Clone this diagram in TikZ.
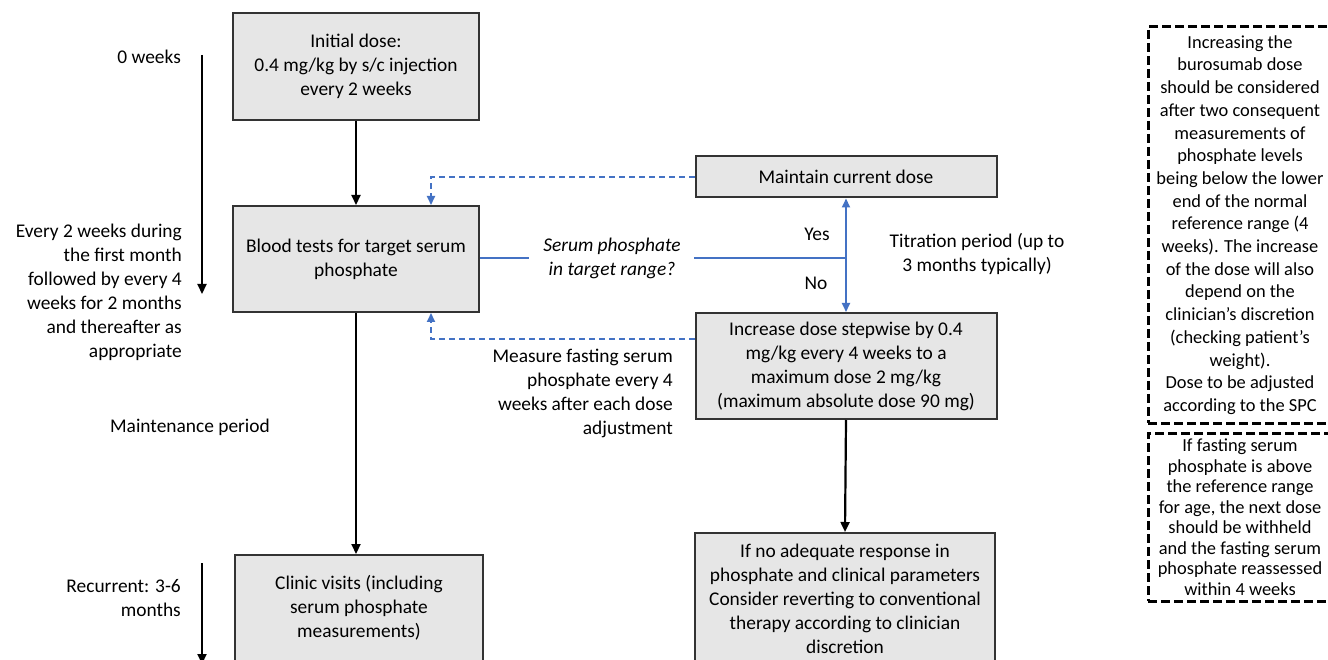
\documentclass[tikz,border=0pt]{standalone}
\usepackage{fontspec}
\setmainfont{Carlito}
\usetikzlibrary{arrows.meta}
\definecolor{boxfill}{HTML}{E6E6E6}
\definecolor{boxdraw}{HTML}{333333}
\definecolor{flowblue}{HTML}{4472C4}
\begin{document}
\begin{tikzpicture}[x=1pt,y=-1pt,
  box/.style={draw=boxdraw, fill=boxfill, line width=2pt, align=center, inner sep=0pt,
    font=\fontsize{19.4}{24}\selectfont},
  lbl/.style={inner sep=0pt, font=\fontsize{19.4}{24}\selectfont},
  blk/.style={line width=2.2pt, -{Triangle[length=10pt,width=9pt]}},
  blu/.style={draw=flowblue, line width=1.8pt},
  bluarrow/.style={blu, -{Triangle[length=9pt,width=8pt]}},
  bludash/.style={bluarrow, dash pattern=on 6pt off 4pt},
  note/.style={draw=black, line width=3pt, dash pattern=on 9pt off 4pt, align=center, inner sep=0pt}]
\useasboundingbox (0,0) rectangle (1328,660);
\clip (0,0) rectangle (1328,660);
\fill[white] (0,0) rectangle (1328,660);

% main boxes
\node[box, minimum width=246pt, minimum height=107pt] (init) at (356,66.5)
  {Initial dose:\\0.4 mg/kg by s/c injection\\every 2 weeks};
\node[box, minimum width=246pt, minimum height=106pt] (blood) at (356,259)
  {Blood tests for target serum\\phosphate};
\node[box, minimum width=301pt, minimum height=41pt] (maint) at (846,177)
  {Maintain current dose};
\node[box, minimum width=301pt, minimum height=106pt] (incr) at (846,366)
  {Increase dose stepwise by 0.4\\mg/kg every 4 weeks to a\\maximum dose 2 mg/kg\\(maximum absolute dose 90 mg)};
\node[box, minimum width=300pt, minimum height=132pt] (ifno) at (845,599)
  {If no adequate response in\\phosphate and clinical parameters\\Consider reverting to conventional\\therapy according to clinician\\discretion};
\node[box, minimum width=248pt, minimum height=106pt] (clinic) at (359,608)
  {Clinic visits (including\\serum phosphate\\measurements)};

% left labels
\node[lbl, anchor=east] (w0) at (181,57) {0 weeks};
\node[lbl, anchor=east, align=right] (every) at (182,292)
  {Every 2 weeks during\\the first month\\followed by every 4\\weeks for 2 months\\and thereafter as\\appropriate};
\node[lbl] (maintp) at (190,427) {Maintenance period};
\node[lbl, anchor=east, align=right] (recur) at (181,598) {Recurrent: 3-6\\months};

% timeline arrows
\coordinate (t1a) at (202,55);
\coordinate (t1b) at (202,294);
\coordinate (t2a) at (202,563);
\coordinate (t2b) at (202,664);
\draw[blk] (t1a) -- (t1b);
\draw[blk] (t2a) -- (t2b);

% black flow arrows
\draw[blk] (init.south) -- (blood.north);
\draw[blk] (blood.south) -- (blood.south |- clinic.north);
\draw[blk] (incr.south) -- (ifno.north);

% decision
\node[lbl, align=center, font=\fontsize{19.4}{24}\selectfont\itshape] (q) at (612,258.5)
  {Serum phosphate\\in target range?};
\coordinate (qa) at (529,258);
\coordinate (qb) at (694,258);
\coordinate (junc) at (846,258);
\draw[blu] (blood.east |- qa) -- (qa);
\draw[blu] (qb) -- (junc);
\draw[bluarrow] (junc) -- (maint.south);
\draw[bluarrow] (junc) -- (incr.north);
\node[lbl] (yes) at (817,234) {Yes};
\node[lbl] (no) at (816,283) {No};
\node[lbl, align=center] (titr) at (977,254) {Titration period (up to\\3 months typically)};

% dashed feedback
\coordinate (d1) at (431,177);
\coordinate (d2) at (431,339);
\draw[bludash] (maint.west) -- (d1) -- (d1 |- blood.north);
\draw[bludash] (incr.west |- d2) -- (d2) -- (d2 |- blood.south);
\node[lbl, anchor=east, align=right] (meas) at (673,393)
  {Measure fasting serum\\phosphate every 4\\weeks after each dose\\adjustment};

% notes
\node[note, minimum width=184pt, minimum height=396pt, font=\fontsize{18.4}{22.7}\selectfont] (note1) at (1240,225)
  {Increasing the\\burosumab dose\\should be considered\\after two consequent\\measurements of\\phosphate levels\\being below the lower\\end of the normal\\reference range (4\\weeks). The increase\\of the dose will also\\depend on the\\clinician’s discretion\\(checking patient’s\\weight).\\Dose to be adjusted\\according to the SPC};
\node[note, minimum width=184pt, minimum height=168pt, font=\fontsize{18.4}{20.5}\selectfont] (note2) at (1240,517)
  {If fasting serum\\phosphate is above\\the reference range\\for age, the next dose\\should be withheld\\and the fasting serum\\phosphate reassessed\\within 4 weeks};
\end{tikzpicture}
\end{document}
